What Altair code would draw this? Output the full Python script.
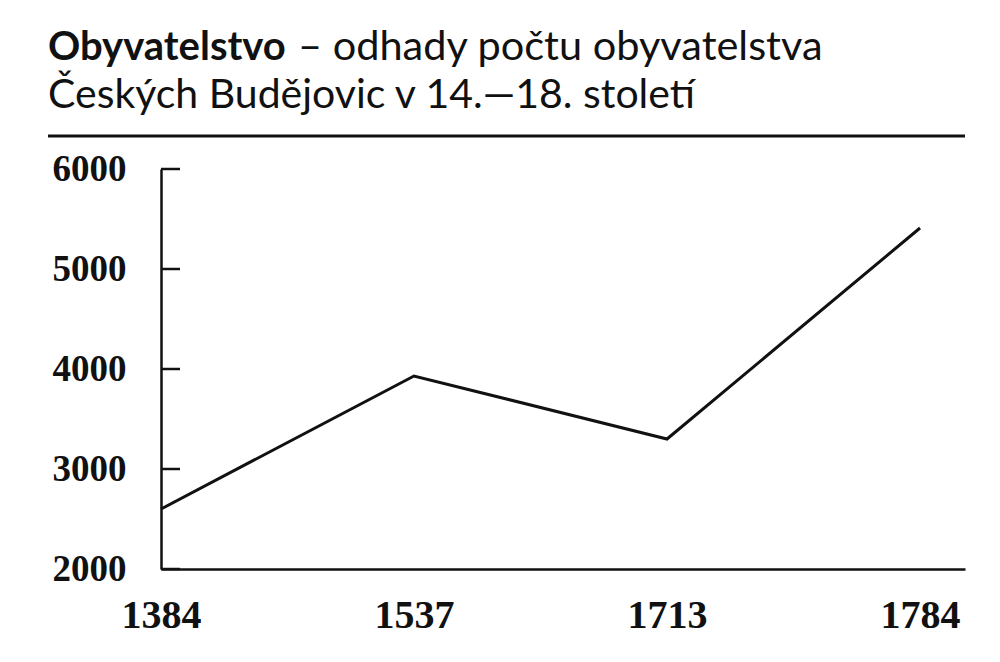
import altair as alt
import pandas as pd

years = ["1384", "1537", "1713", "1784"]
population = [2600, 3930, 3300, 5410]
y_ticks = [2000, 3000, 4000, 5000, 6000]
title_bold = "Obyvatelstvo"
title_rest = "– odhady počtu obyvatelstva"
title_line2 = "Českých Budějovic v 14.—18. století"

df = pd.DataFrame({"year": years, "population": population})
ticks_df = pd.DataFrame({"tick": y_ticks})

W, H = 804, 400
INK = "#111111"
TITLE_FONT = "Lato"
AXIS_FONT = "Liberation Serif"

x_scale = alt.Scale(type="point", domain=years, padding=0.0889, align=0)
y_scale = alt.Scale(domain=[2000, 6000], nice=False, zero=False)

line = alt.Chart(df).mark_line(color=INK, strokeWidth=3).encode(
    x=alt.X("year:O", scale=x_scale, sort=years,
            axis=alt.Axis(title=None, ticks=False, labelAngle=0,
                          labelFont=AXIS_FONT, labelFontSize=40,
                          labelFontWeight="bold", labelColor=INK,
                          labelPadding=26, domainColor=INK, domainWidth=2.5,
                          grid=False)),
    y=alt.Y("population:Q", scale=y_scale,
            axis=alt.Axis(title=None, values=y_ticks, ticks=False, format="d",
                          labelFont=AXIS_FONT, labelFontSize=37,
                          labelFontWeight="bold", labelColor=INK,
                          labelPadding=35, domainColor=INK, domainWidth=2.5,
                          grid=False, labelBaseline="middle")),
)

tick_marks = alt.Chart(ticks_df).mark_rule(color=INK, strokeWidth=2.5).encode(
    y=alt.Y("tick:Q", scale=y_scale),
    x=alt.value(0),
    x2=alt.value(19),
)

t1 = alt.Chart(pd.DataFrame({"t": [title_bold]})).mark_text(
    font=TITLE_FONT, fontSize=40, fontWeight="bold", color=INK,
    align="left", baseline="alphabetic"
).encode(text="t:N", x=alt.value(-113), y=alt.value(-109))

t2 = alt.Chart(pd.DataFrame({"t": [title_rest]})).mark_text(
    font=TITLE_FONT, fontSize=41.5, color=INK,
    align="left", baseline="alphabetic"
).encode(text="t:N", x=alt.value(137), y=alt.value(-109))

t3 = alt.Chart(pd.DataFrame({"t": [title_line2]})).mark_text(
    font=TITLE_FONT, fontSize=41, color=INK,
    align="left", baseline="alphabetic"
).encode(text="t:N", x=alt.value(-113), y=alt.value(-61))

sep = alt.Chart(pd.DataFrame({"a": [0]})).mark_rule(color=INK, strokeWidth=3).encode(
    x=alt.value(-113), x2=alt.value(W), y=alt.value(-33)
)

chart = alt.layer(tick_marks, line, sep, t1, t2, t3).properties(
    width=W, height=H,
    padding={"left": 153, "top": 161, "right": 20, "bottom": 80},
    autosize=alt.AutoSizeParams(type="none"),
).configure_view(stroke=None)

chart.save("out.html", embed_options={"renderer": "svg", "actions": False})
